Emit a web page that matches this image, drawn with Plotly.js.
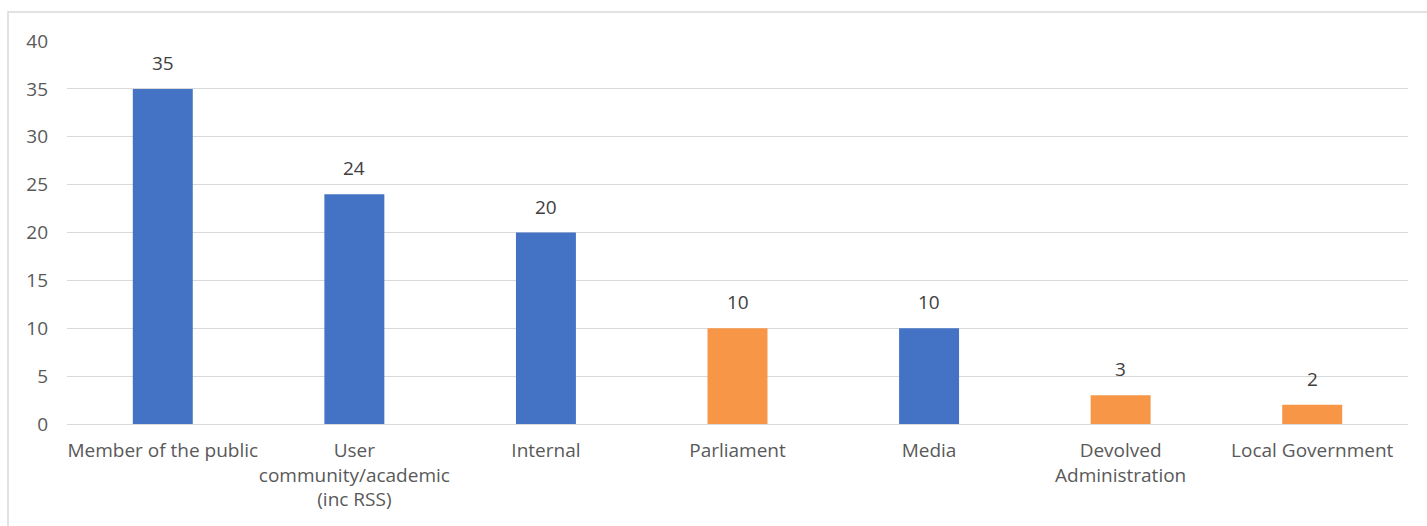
<!DOCTYPE html>
<html>
<head>
<meta charset="utf-8">
<script src="https://cdn.plot.ly/plotly-3.0.1.min.js"></script>
<style>html,body{margin:0;padding:0;background:#fff;}#chart{width:1427px;height:526px;}</style>
</head>
<body>
<div id="chart"></div>
<script>
const categories = ["Member of the public", "User community/academic (inc RSS)", "Internal", "Parliament", "Media", "Devolved Administration", "Local Government"];
const tickLabels = ["Member of the public", "User<br>community/academic<br>(inc RSS)", "Internal", "Parliament", "Media", "Devolved<br>Administration", "Local Government"];
const values = [35, 24, 20, 10, 10, 3, 2];
const groups = ["blue", "blue", "blue", "orange", "blue", "orange", "orange"];
const colorMap = {blue: "#4472C4", orange: "#F79646"};

const fontFam = "Open Sans, Noto Sans, sans-serif";
const fs = 19;

const trace = {
  type: "bar",
  x: categories,
  y: values,
  marker: {color: groups.map(g => colorMap[g])},
  hoverinfo: "skip"
};

const annotations = categories.map((c, i) => ({
  x: c, y: values[i], xref: "x", yref: "y",
  text: String(values[i]), showarrow: false,
  yanchor: "bottom", yshift: 11,
  font: {family: fontFam, size: fs, color: "#404040"}
}));

const layout = {
  width: 1427, height: 526,
  margin: {l: 67, r: 19, t: 41, b: 102},
  paper_bgcolor: "#ffffff", plot_bgcolor: "#ffffff",
  showlegend: false,
  bargap: 0.687,
  font: {family: fontFam, size: fs, color: "#595959"},
  xaxis: {
    type: "category",
    tickmode: "array", tickvals: categories, ticktext: tickLabels,
    tickangle: 0,
    showgrid: false, showline: false, ticks: "",
    ticklabelstandoff: 13,
    tickfont: {family: fontFam, size: fs, color: "#595959"},
    fixedrange: true
  },
  yaxis: {
    range: [0, 40], dtick: 5, tick0: 0,
    showgrid: true, gridcolor: "#D9D9D9", gridwidth: 1,
    zeroline: true, zerolinecolor: "#D9D9D9", zerolinewidth: 1,
    showline: false, ticks: "",
    ticklabelstandoff: 18,
    tickfont: {family: fontFam, size: fs, color: "#595959"},
    fixedrange: true
  },
  annotations: annotations,
  shapes: [{
    type: "rect", xref: "paper", yref: "paper",
    x0: -0.044, x1: 1.05, y0: -0.35, y1: 1.0757,
    line: {color: "#D9D9D9", width: 1.5}, fillcolor: "rgba(0,0,0,0)", layer: "below"
  }]
};

Plotly.newPlot("chart", [trace], layout, {displayModeBar: false, staticPlot: true});
</script>
</body>
</html>
